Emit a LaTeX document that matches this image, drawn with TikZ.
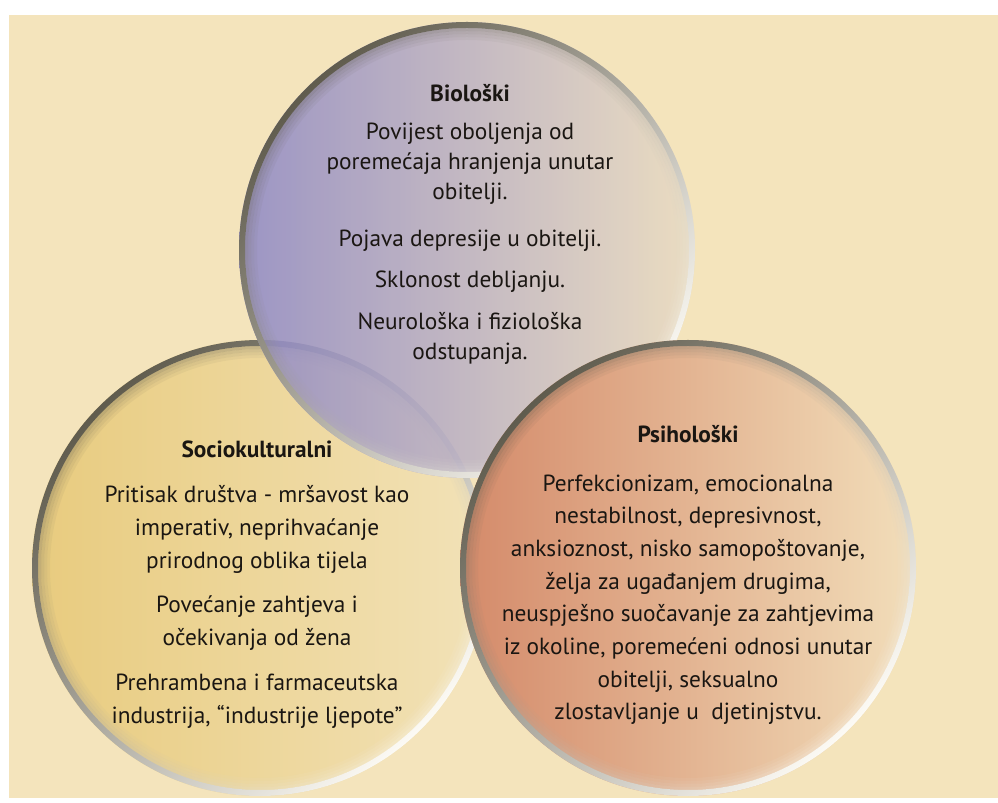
\documentclass[tikz,border=0pt]{standalone}
\usepackage{fontspec}
\setsansfont{PT Sans}
\RequirePackage{xcolor}
\definecolor{paper}{RGB}{244,228,188}
\definecolor{ink}{RGB}{26,22,18}
\definecolor{rimdark}{RGB}{96,92,78}
\definecolor{rimmid}{RGB}{206,196,172}
\definecolor{rimlight}{RGB}{252,250,244}
\definecolor{biol}{RGB}{142,136,198}
\definecolor{bior}{RGB}{234,220,194}
\definecolor{socl}{RGB}{232,203,126}
\definecolor{socr}{RGB}{242,226,184}
\definecolor{psil}{RGB}{212,138,106}
\definecolor{psir}{RGB}{242,222,186}
\tikzset{every picture/.style={/utils/exec={\sffamily}}}
\usetikzlibrary{positioning}

\begin{document}
\begin{tikzpicture}[x=0.75pt, y=0.75pt,
  rim/.style={even odd rule, top color=rimdark, middle color=rimmid, bottom color=rimlight, shading angle=45},
  factor/.style={align=center, anchor=north, inner sep=0pt, text=ink}]

  \useasboundingbox (0,0) rectangle (998,802);
  \fill [paper] (9,4) rectangle (998,787);

  \begin{scope}
    \clip (9,4) rectangle (998,787);
    % Sociokulturalni, Biološki, Psihološki
    \foreach \cx/\cy/\lc/\rc/\op in {260/234/socl/socr/1, 467/552/biol/bior/0.86, 688/234/psil/psir/1} {
      \shade [left color=\lc, right color=\rc, fill opacity=\op] (\cx,\cy) circle [radius=228];
      \shade [rim] (\cx,\cy) circle [radius=228] (\cx,\cy) circle [radius=222];
      \foreach \k/\o in {0/0.32, 1/0.22, 2/0.14, 3/0.07}
        \shade [rim, fill opacity=\o] (\cx,\cy) circle [radius={222-3*\k}] (\cx,\cy) circle [radius={219-3*\k}];
    }
  \end{scope}

  \node [factor, font=\fontsize{17.5}{22.5}\selectfont] (bio) at (470,718)
    {\textbf{Biološki}\\[6pt]
     Povijest oboljenja od\\ poremećaja hranjenja unutar\\ obitelji.\\[13pt]
     Pojava depresije u obitelji.\\[8pt]
     Sklonost debljanju.\\[9pt]
     Neurološka i fiziološka\\ odstupanja.};

  \node [factor, font=\fontsize{17.5}{24.75}\selectfont] (soc) at (257,361)
    {\textbf{Sociokulturalni}\\[9pt]
     Pritisak društva - mršavost kao\\ imperativ, neprihvaćanje\\ prirodnog oblika tijela\\[8pt]
     Povećanje zahtjeva i\\ očekivanja od žena\\[9pt]
     Prehrambena i farmaceutska\\ industrija, “industrije ljepote”};

  \node [factor, font=\fontsize{17.5}{24.5}\selectfont] (psi) at (688,377)
    {\textbf{Psihološki}\\[12pt]
     Perfekcionizam, emocionalna\\ nestabilnost, depresivnost,\\
     anksioznost, nisko samopoštovanje,\\ želja za ugađanjem drugima,\\
     neuspješno suočavanje za zahtjevima\\ iz okoline, poremećeni odnosi unutar\\
     obitelji, seksualno\\ zlostavljanje u~ djetinjstvu.};

\end{tikzpicture}
\end{document}
